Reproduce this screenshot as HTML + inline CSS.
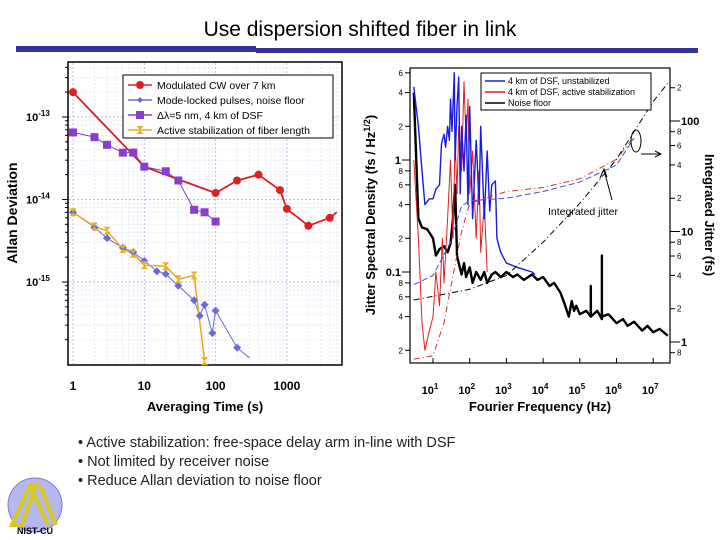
<!DOCTYPE html>
<html><head><meta charset="utf-8"><style>
body{margin:0;background:#fff;}
#wrap{position:relative;width:720px;height:540px;overflow:hidden;font-family:"Liberation Sans",sans-serif;}
svg text{font-family:"Liberation Sans",sans-serif;}
</style></head><body>
<div id="wrap">
<svg id="svg" width="720" height="540" viewBox="0 0 720 540">
<text x="360" y="36" text-anchor="middle" font-size="21" fill="#000">Use dispersion shifted fiber in link</text>
<rect x="16" y="46" width="240" height="6" fill="#333399"/>
<rect x="256" y="48" width="442" height="5" fill="#333399"/>
<g id="left"></g>
<g id="right"></g>
<g font-size="14.5" fill="#222">
<text x="78" y="447">• Active stabilization: free-space delay arm in-line with DSF</text>
<text x="78" y="466">• Not limited by receiver noise</text>
<text x="78" y="485">• Reduce Allan deviation to noise floor</text>
</g>
<g>
<circle cx="35" cy="505" r="27" fill="#b5b8ee" stroke="#7a7fd0"/>
<path d="M12 525 L30 485 L36 485 L22 525 Z M30 485 L48 525 M40 485 L56 525" stroke="#d8c820" stroke-width="4" fill="none"/>
<text x="35" y="534" text-anchor="middle" font-size="9" font-weight="bold" fill="#000">NIST-CU</text>
</g>
</svg>
</div>
<script>
// ---------- Left chart data ----------
const redX=[1,10,30,100,200,400,800,1000,2000,4000,5000];
const redY=[2e-13,2.5e-14,1.75e-14,1.2e-14,1.7e-14,2e-14,1.3e-14,7.7e-15,4.8e-15,6e-15,7e-15];
const purX=[1,2,3,5,7,10,20,30,50,70,100];
const purY=[6.5e-14,5.7e-14,4.6e-14,3.7e-14,3.7e-14,2.5e-14,2.2e-14,1.7e-14,7.5e-15,7e-15,5.4e-15];
const bluX=[1,2,3,5,7,10,15,20,30,50,60,70,90,100,200,300];
const bluY=[7e-15,4.6e-15,3.4e-15,2.6e-15,2.3e-15,1.8e-15,1.35e-15,1.25e-15,9e-16,6e-16,3.9e-16,5.3e-16,2.4e-16,4.5e-16,1.6e-16,1.2e-16];
const yelX=[1,2,3,5,7,10,20,30,50,70];
const yelY=[7e-15,4.7e-15,4.2e-15,2.5e-15,2.2e-15,1.6e-15,1.55e-15,1.08e-15,1.2e-15,1.1e-16];
const leftXTicks=[1,10,100,1000];
const leftYTicks=[-13,-14,-15];
const legendL=["Modulated CW over 7 km","Mode-locked pulses, noise floor","Δλ=5 nm, 4 km of DSF","Active stabilization of fiber length"];
// ---------- Right chart data ----------
const unstF=[3,4,5,6,8,10,12,15,17,20,22,25,28,30,33,38,40,45,50,55,60,70,80,90,100,120,150,180,200,250,300,350,400,500,550,700,1000,2000,5000,6000];
const unstV=[4.5,2,0.8,0.4,0.45,0.45,0.55,0.6,1.4,1.7,1.3,2,1.5,3.5,1.8,6,1,3,5.5,0.5,2,0.8,2.5,0.4,3,0.3,1.5,0.4,2,0.3,1.2,0.35,0.6,0.65,0.2,0.15,0.12,0.11,0.1,0.095];
const actF=[3,4,5,6,8,10,12,15,18,20,25,30,35,40,45,50,60,70,80,90,100,120,150,180,200,250,300];
const actV=[1,0.2,0.035,0.02,0.03,0.04,0.1,0.05,0.2,0.08,0.3,1,0.2,1.5,0.5,2,0.8,5,1.5,3.5,0.5,1.2,0.2,0.8,0.15,0.4,0.1];
const nfF=[3,4,5,7,10,12,15,20,25,30,35,40,45,50,60,70,80,100,120,150,200,250,300,400,500,700,1000,1500,2000,3000,5000,7000,10000,15000,20000,30000,40000,50000,60000,70000,80000,100000,150000,199000,200000,201000,300000,399000,400000,401000,600000,1000000,1500000,2000000,3000000,5000000,7000000,10000000,15000000,25000000];
const nfV=[4,0.3,0.25,0.24,0.2,0.14,0.16,0.17,0.15,0.18,0.3,0.6,0.14,0.12,0.095,0.12,0.09,0.11,0.08,0.1,0.085,0.1,0.08,0.095,0.1,0.09,0.1,0.09,0.095,0.085,0.095,0.085,0.09,0.075,0.08,0.065,0.05,0.04,0.055,0.045,0.05,0.042,0.045,0.04,0.075,0.04,0.045,0.038,0.14,0.04,0.042,0.035,0.038,0.033,0.036,0.03,0.033,0.029,0.031,0.027];
const ijBlueF=[3,10,30,60,100,1000,10000,100000,1000000,3000000];
const ijBlueV=[3.3,4,8,17,19,20,23,28,40,70];
const ijRedF=[3,10,20,40,60,100,1000,10000,100000,1000000,3000000];
const ijRedV=[0.7,0.75,1.5,5,10,18,23,25,30,45,72];
const ijBlkF=[3,100,1000,10000,100000,1000000,10000000,25000000];
const ijBlkV=[2.4,3,4,8,18,45,150,220];
const rightXTicks=[1,2,3,4,5,6,7];
const rightLTicks=[6,4,2,1,0.8,0.6,0.4,0.2,0.1,0.08,0.06,0.04,0.02];
const rightRTicks=[200,100,80,60,40,20,10,8,6,4,2,1,0.8];

const NS="http://www.w3.org/2000/svg";
function mk(tag,attrs,parent,txt){const e=document.createElementNS(NS,tag);for(const k in attrs)e.setAttribute(k,attrs[k]);if(txt!==undefined)e.textContent=txt;parent.appendChild(e);return e;}
const L=document.getElementById('left'), R=document.getElementById('right');

// Left axes
const lx=v=>73+71.3*Math.log10(v);
const ly=v=>117-82.5*(Math.log10(v)+13);
let e=mk('rect',{x:68,y:62,width:274,height:303,fill:'#fff',stroke:'#000','stroke-width':1.5},L);


for(let d=0;d<4;d++)for(let m=1;m<10;m++){const v=Math.pow(10,d)*m;const x=lx(v);if(x>342)continue;
 e=mk('line',{x1:x,x2:x,y1:63,y2:364,stroke:m==1?'#b8bce8':'#dde0f4','stroke-width':m==1?1:0.7,'stroke-dasharray':'2,2'},L);
 
 }
for(let d=-16;d<=-13;d++)for(let m=1;m<10;m++){const v=m*Math.pow(10,d);const y=ly(v);if(y<63||y>364)continue;
 e=mk('line',{x1:69,x2:341,y1:y,y2:y,stroke:m==1?'#b8bce8':'#dde0f4','stroke-width':m==1?1:0.7,'stroke-dasharray':'2,2'},L);
 
 
 e=mk('line',{x1:68,x2:m==1?62:65,y1:y,y2:y,stroke:'#000'},L);
 
 }
leftXTicks.forEach(v=>{e=mk('text',{x:lx(v),y:390,'text-anchor':'middle','font-size':12,'font-weight':'bold'},L,String(v));
 
 });
leftYTicks.forEach(p=>{e=mk('text',{x:26,y:ly(Math.pow(10,p))+4,'font-size':11,'font-weight':'bold'},L);
 
 
 mk('tspan',{},e,'10');mk('tspan',{dy:-5,'font-size':8},e,String(p));});
e=mk('text',{x:205,y:411,'text-anchor':'middle','font-size':13,'font-weight':'bold'},L,'Averaging Time (s)');


e=mk('text',{x:17,y:213,'text-anchor':'middle','font-size':14,'font-weight':'bold',transform:'rotate(-90 17 213)'},L,'Allan Deviation');


function series(G,X,Y,fx,fy,color,w,name,dash){const pts=X.map((v,i)=>fx(v).toFixed(1)+','+fy(Y[i]).toFixed(1)).join(' ');
 const p=mk('polyline',{points:pts,fill:'none',stroke:color,'stroke-width':w,'stroke-linejoin':'round'},G);if(dash)p.setAttribute('stroke-dasharray',dash);
 
 }
series(L,purX,purY,lx,ly,'#7b3fc4',1,'purple-line');
series(L,bluX,bluY,lx,ly,'#6a6ad8',1,'blue-line');
series(L,yelX,yelY,lx,ly,'#e8a820',1.5,'yellow-line');
series(L,redX,redY,lx,ly,'#d42020',1.8,'red-line');
purX.forEach((v,i)=>{e=mk('rect',{x:lx(v)-4,y:ly(purY[i])-4,width:8,height:8,fill:'#8a3ed0'},L);
 
 });
bluX.forEach((v,i)=>{if(i==bluX.length-1)return;const x=lx(v),y=ly(bluY[i]);e=mk('path',{d:`M${x} ${y-4}L${x+4} ${y}L${x} ${y+4}L${x-4} ${y}Z`,fill:'#6a6ad8'},L);
 
 });
yelX.forEach((v,i)=>{const x=lx(v),y=ly(yelY[i]);e=mk('path',{d:`M${x-3.5} ${y-4}H${x+3.5}L${x} ${y}L${x+3.5} ${y+4}H${x-3.5}L${x} ${y}Z`,fill:'#e8b020'},L);
 
 });
redX.forEach((v,i)=>{if(i==1||i==2||i==redX.length-1)return;e=mk('circle',{cx:lx(v),cy:ly(redY[i]),r:4,fill:'#e02020'},L);
 
 });
e=mk('rect',{x:123,y:75,width:210,height:63,fill:'#fff',stroke:'#000'},L);


const lcol=['#e02020','#6a6ad8','#8a3ed0','#e8b020'];
legendL.forEach((t,i)=>{const y=85+i*15;mk('line',{x1:128,x2:152,y1:y,y2:y,stroke:lcol[i],'stroke-width':1.5},L);
 if(i==0)mk('circle',{cx:140,cy:y,r:4,fill:lcol[0]},L);
 if(i==1)mk('path',{d:`M140 ${y-3}L143 ${y}L140 ${y+3}L137 ${y}Z`,fill:lcol[1]},L);
 if(i==2)mk('rect',{x:136,y:y-4,width:8,height:8,fill:lcol[2]},L);
 if(i==3)mk('path',{d:`M136.5 ${y-4}H143.5L140 ${y}L143.5 ${y+4}H136.5L140 ${y}Z`,fill:lcol[3]},L);
 e=mk('text',{x:157,y:y+4,'font-size':10.5},L,t);
 
 });

// Right axes
const rx=f=>396.3+36.7*Math.log10(f);
const rly=v=>160-112*Math.log10(v);
const rry=v=>342-110.5*Math.log10(v);
e=mk('rect',{x:410,y:68,width:260,height:295,fill:'#fff',stroke:'#000','stroke-width':1.2},R);


const cp=mk('clipPath',{id:'rc'},R);mk('rect',{x:410,y:68,width:260,height:295},cp);
rightXTicks.forEach(p=>{const x=rx(Math.pow(10,p));mk('line',{x1:x,x2:x,y1:363,y2:358,stroke:'#000'},R);
 e=mk('text',{x:x-3,y:394,'text-anchor':'middle','font-size':11,'font-weight':'bold'},R);
 
 
 mk('tspan',{},e,'10');mk('tspan',{dy:-5,'font-size':8},e,String(p));});
rightLTicks.forEach(v=>{const y=rly(v);const major=(v==1||v==0.1);mk('line',{x1:410,x2:major?402:405,y1:y,y2:y,stroke:'#000'},R);
 e=mk('text',{x:major?401:403,y:y+(major?4:3),'text-anchor':'end','font-size':major?11:8,'font-weight':major?'bold':'normal'},R,String(v).replace(/^0\.(0)?([2-8])$/,'$2'));
 
 });
rightRTicks.forEach(v=>{const y=rry(v);const major=(v==100||v==10||v==1);mk('line',{x1:670,x2:major?680:675,y1:y,y2:y,stroke:'#000'},R);
 let t=String(v);if(!major)t=t.replace(/0+$/,'').replace('0.','');
 e=mk('text',{x:major?681:677,y:y+(major?4:3),'font-size':major?11:8,'font-weight':major?'bold':'normal'},R,t);
 
 });
e=mk('text',{x:540,y:411,'text-anchor':'middle','font-size':13,'font-weight':'bold'},R,'Fourier Frequency (Hz)');


e=mk('text',{x:375,y:215,'text-anchor':'middle','font-size':13,'font-weight':'bold',transform:'rotate(-90 375 215)'},R,'Jitter Spectral Density (fs / Hz');


mk('tspan',{dy:-5,'font-size':9},e,'1/2');mk('tspan',{dy:5},e,')');
e=mk('text',{x:705,y:215,'text-anchor':'middle','font-size':13,'font-weight':'bold',transform:'rotate(90 705 215)'},R,'Integrated Jitter (fs)');


const G=mk('g',{'clip-path':'url(#rc)'},R);
series(G,nfF,nfV,rx,rly,'#000',2.4,'noise-floor-line');
series(G,actF,actV,rx,rly,'#e02020',1,'active-stabilization-line');
series(G,unstF,unstV,rx,rly,'#1a1ae0',1.4,'unstabilized-line');
series(G,ijBlueF,ijBlueV,rx,rry,'#4050d0',1,'integrated-jitter-unstabilized','6,3');
series(G,ijRedF,ijRedV,rx,rry,'#d03030',1,'integrated-jitter-active','6,3,1,3');
series(G,ijBlkF,ijBlkV,rx,rry,'#000',1,'integrated-jitter-noise-floor','6,3,1,3');
e=mk('rect',{x:481,y:73,width:170,height:37,fill:'#fff',stroke:'#000'},R);


[['#1a1ae0','4 km of DSF, unstabilized'],['#e02020','4 km of DSF, active stabilization'],['#000','Noise floor']].forEach((d,i)=>{const y=81+i*11;
 mk('line',{x1:485,x2:505,y1:y,y2:y,stroke:d[0],'stroke-width':1.5},R);
 e=mk('text',{x:508,y:y+3,'font-size':9},R,d[1]);
 
 });
e=mk('ellipse',{cx:636,cy:141,rx:5,ry:11,fill:'none',stroke:'#000'},R);


mk('path',{d:'M641 154H660M655 151L661 154L655 157',stroke:'#000',fill:'none'},R);
mk('path',{d:'M612 200L604 170M600 178L604 169L607 177',stroke:'#000',fill:'none'},R);
e=mk('text',{x:583,y:215,'font-size':10.5,'text-anchor':'middle'},R,'Integrated jitter');


</script>
</body></html>
